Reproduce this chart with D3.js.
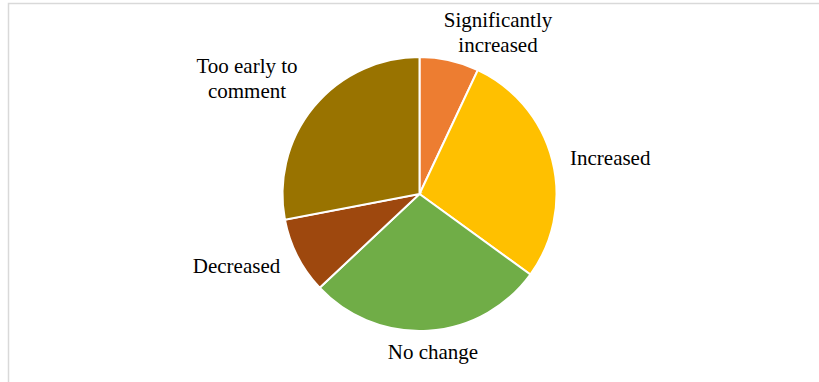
<!DOCTYPE html>
<html>
<head>
<meta charset="utf-8">
<script src="https://cdn.jsdelivr.net/npm/d3@7"></script>
<style>
  body { margin: 0; background: #fff; }
  .label { font-family: "Liberation Serif", "Times New Roman", serif; font-size: 21px; fill: #000; }
</style>
</head>
<body>
<svg width="819" height="382"></svg>
<script>
const categories = ["Significantly increased", "Increased", "No change", "Decreased", "Too early to comment"]
const values = [7, 28, 28, 9, 28]
const colors = ["#ED7D31", "#FFC000", "#70AD47", "#9E480E", "#997300"]

// label lines and placement (relative to pie centre)
const labelLines = [["Significantly", "increased"], ["Increased"], ["No change"], ["Decreased"], ["Too early to", "comment"]]
const labelAt = [
  { x: 78.5, y: -167, anchor: "middle" },
  { x: 150.5, y: -29, anchor: "start" },
  { x: 13.5, y: 165, anchor: "middle" },
  { x: -183, y: 79, anchor: "middle" },
  { x: -172.5, y: -121, anchor: "middle" }
]

const svg = d3.select("svg")
const width = +svg.attr("width")
const height = +svg.attr("height")

// chart frame
svg.append("rect")
  .attr("x", 8.5).attr("y", 3.5)
  .attr("width", width + 10).attr("height", height + 10)
  .attr("fill", "none")
  .attr("stroke", "#d9d9d9")
  .attr("stroke-width", 1.5)

const cx = 419.5
const cy = 194
const radius = 137

const data = categories.map((c, i) => ({ category: c, value: values[i], color: colors[i] }))

const pie = d3.pie().sort(null).value(d => d.value)
const arc = d3.arc().innerRadius(0).outerRadius(radius)

const g = svg.append("g").attr("transform", `translate(${cx},${cy})`)

g.selectAll("path")
  .data(pie(data))
  .join("path")
  .attr("d", arc)
  .attr("fill", d => d.data.color)
  .attr("stroke", "#fff")
  .attr("stroke-width", 2)

const labels = g.selectAll("text")
  .data(data)
  .join("text")
  .attr("class", "label")
  .attr("text-anchor", (d, i) => labelAt[i].anchor)

labels.each(function (d, i) {
  d3.select(this).selectAll("tspan")
    .data(labelLines[i])
    .join("tspan")
    .attr("x", labelAt[i].x)
    .attr("y", (t, j) => labelAt[i].y + j * 25)
    .text(t => t)
})
</script>
</body>
</html>
